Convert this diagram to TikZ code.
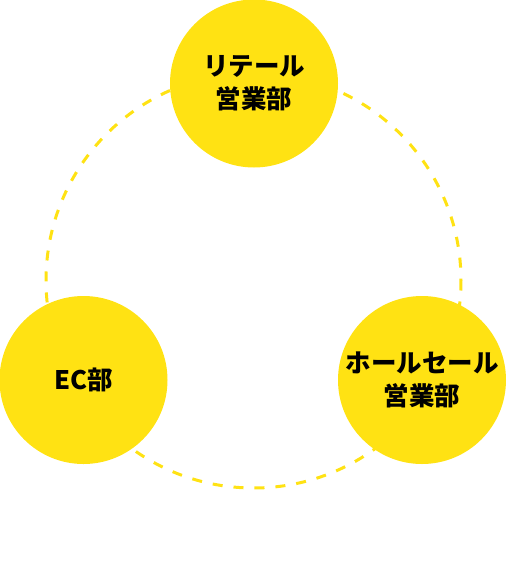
\documentclass[tikz,border=0pt]{standalone}
\usepackage{fontspec}
\newfontfamily\jpfont{Noto Sans CJK JP}
\usetikzlibrary{positioning}
\definecolor{deptyellow}{HTML}{FFE213}

\begin{document}
\begin{tikzpicture}[
            x=1pt, y=-1pt,
            dept/.style={
                circle,
                fill=deptyellow,
                minimum size=168pt,
                inner sep=0pt,
                align=center,
                font=\jpfont\bfseries\fontsize{25.5}{33}\selectfont
            },
            ring/.style={
                draw=deptyellow,
                line width=3pt,
                dash pattern=on 10pt off 11pt
            }
        ]

            % Canvas
            \useasboundingbox (0,0) rectangle (507,574);

            % Parameters
            \def\xMid{253.5}
            \def\yMid{280.5}
            \def\rRing{207.5}

            % Dashed ring behind the departments
            \coordinate (hub) at (\xMid, \yMid);
            \draw[ring] (hub) circle[radius=\rRing];

            % Departments
            \node[dept] (retail)    at (254, 83.5) {リテール\\営業部};
            \node[dept] (ec)        at (83.5, 380) {EC部};
            \node[dept] (wholesale) at (422, 380)  {ホールセール\\営業部};

        \end{tikzpicture}
\end{document}
